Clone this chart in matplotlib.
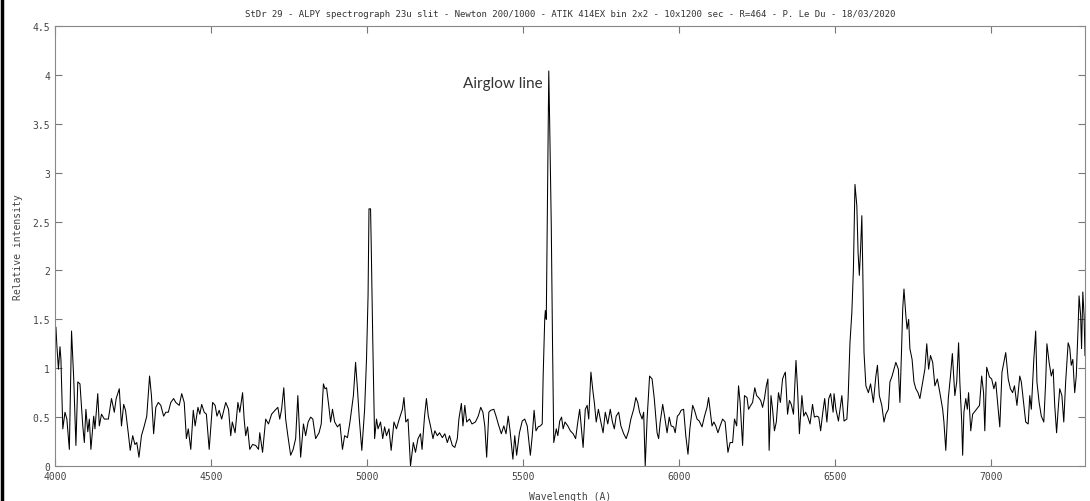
from matplotlib import pyplot as plt
from matplotlib.lines import Line2D
from matplotlib.ticker import FormatStrFormatter

# Spectrum (wavelength in A, relative intensity)
wavelength = [
  4000, 4003, 4006, 4011, 4016, 4019, 4025, 4032, 4038, 4046, 4053, 4060, 4067, 4073, 4080,
  4089, 4094, 4099, 4105, 4110, 4115, 4124, 4128, 4137, 4142, 4149, 4158, 4171, 4181, 4190,
  4196, 4206, 4213, 4220, 4226, 4235, 4241, 4249, 4256, 4262, 4269, 4277, 4286, 4294, 4303,
  4309, 4316, 4323, 4331, 4339, 4348, 4355, 4363, 4371, 4380, 4387, 4398, 4406, 4414, 4421,
  4427, 4435, 4443, 4449, 4458, 4464, 4470, 4478, 4485, 4494, 4505, 4513, 4519, 4526, 4534,
  4547, 4556, 4563, 4568, 4577, 4586, 4592, 4601, 4606, 4611, 4617, 4624, 4633, 4643, 4652,
  4656, 4665, 4675, 4684, 4694, 4705, 4714, 4720, 4726, 4733, 4739, 4746, 4755, 4763, 4771,
  4778, 4787, 4796, 4803, 4811, 4819, 4826, 4835, 4846, 4853, 4860, 4865, 4870, 4877, 4883,
  4889, 4896, 4905, 4913, 4921, 4928, 4937, 4945, 4956, 4963, 4969, 4975, 4983, 4992, 4998,
  5003, 5006, 5011, 5013, 5018, 5024, 5030, 5035, 5043, 5050, 5056, 5062, 5070, 5077, 5086,
  5094, 5103, 5113, 5118, 5124, 5131, 5139, 5148, 5155, 5163, 5171, 5176, 5184, 5190, 5196,
  5203, 5211, 5217, 5225, 5232, 5241, 5249, 5257, 5264, 5273, 5281, 5289, 5294, 5302, 5307,
  5313, 5319, 5328, 5336, 5347, 5356, 5364, 5371, 5377, 5383, 5390, 5396, 5406, 5413, 5422,
  5430, 5438, 5445, 5452, 5458, 5467, 5473, 5479, 5488, 5497, 5505, 5513, 5523, 5529, 5535,
  5541, 5548, 5555, 5561, 5564, 5569, 5571, 5574, 5579, 5582, 5585, 5590, 5594, 5598, 5606,
  5611, 5617, 5623, 5628, 5634, 5643, 5651, 5660, 5668, 5675, 5681, 5692, 5699, 5705, 5710,
  5717, 5724, 5728, 5734, 5741, 5747, 5756, 5763, 5771, 5779, 5786, 5792, 5798, 5806, 5813,
  5822, 5830, 5838, 5845, 5854, 5861, 5867, 5873, 5881, 5886, 5891, 5897, 5905, 5913, 5920,
  5929, 5934, 5939, 5947, 5953, 5961, 5968, 5974, 5982, 5987, 5994, 6000, 6006, 6014, 6021,
  6028, 6034, 6043, 6049, 6057, 6064, 6073, 6081, 6089, 6094, 6099, 6105, 6111, 6117, 6124,
  6131, 6139, 6147, 6156, 6163, 6171, 6177, 6184, 6190, 6195, 6203, 6209, 6217, 6222, 6229,
  6235, 6242, 6248, 6254, 6261, 6267, 6273, 6279, 6284, 6288, 6294, 6299, 6305, 6311, 6318,
  6324, 6331, 6337, 6340, 6347, 6353, 6359, 6366, 6374, 6379, 6385, 6393, 6399, 6405, 6411,
  6419, 6427, 6433, 6440, 6447, 6453, 6460, 6466, 6473, 6479, 6485, 6493, 6496, 6502, 6510,
  6521, 6528, 6537, 6541, 6547, 6553, 6558, 6563, 6569, 6573, 6577, 6581, 6585, 6588, 6592,
  6598, 6606, 6613, 6622, 6630, 6635, 6641, 6649, 6656, 6662, 6670, 6675, 6682, 6688, 6694,
  6702, 6707, 6712, 6716, 6720, 6726, 6730, 6735, 6739, 6746, 6752, 6758, 6765, 6771, 6780,
  6787, 6793, 6799, 6805, 6812, 6819, 6827, 6835, 6844, 6848, 6854, 6862, 6869, 6875, 6883,
  6889, 6895, 6899, 6905, 6908, 6912, 6918, 6923, 6927, 6934, 6940, 6950, 6962, 6969, 6975,
  6979, 6985, 6994, 7001, 7008, 7014, 7022, 7027, 7034, 7040, 7046, 7054, 7061, 7068, 7074,
  7082, 7091, 7096, 7104, 7110, 7118, 7123, 7128, 7136, 7142, 7146, 7153, 7160, 7168, 7174,
  7178, 7185, 7192, 7198, 7203, 7209, 7214, 7219, 7226, 7232, 7238, 7246, 7251, 7256, 7261,
  7267, 7272, 7278, 7281, 7286, 7289, 7293, 7297, 7300,
]
intensity = [
  1.40, 1.42, 1.23, 0.99, 1.22, 1.09, 0.38, 0.55, 0.48, 0.17, 1.38, 0.89, 0.21, 0.86, 0.84,
  0.41, 0.24, 0.58, 0.35, 0.48, 0.17, 0.51, 0.38, 0.74, 0.41, 0.53, 0.48, 0.48, 0.69, 0.55,
  0.69, 0.79, 0.41, 0.63, 0.57, 0.33, 0.16, 0.31, 0.22, 0.24, 0.09, 0.31, 0.41, 0.51, 0.92,
  0.72, 0.33, 0.60, 0.65, 0.62, 0.51, 0.55, 0.55, 0.65, 0.69, 0.65, 0.62, 0.74, 0.65, 0.28,
  0.38, 0.17, 0.57, 0.41, 0.60, 0.53, 0.63, 0.55, 0.53, 0.17, 0.65, 0.62, 0.51, 0.57, 0.48,
  0.65, 0.58, 0.31, 0.45, 0.34, 0.65, 0.55, 0.75, 0.48, 0.31, 0.40, 0.17, 0.22, 0.21, 0.17,
  0.34, 0.14, 0.48, 0.43, 0.53, 0.57, 0.60, 0.48, 0.58, 0.80, 0.48, 0.31, 0.11, 0.17, 0.28,
  0.72, 0.09, 0.43, 0.31, 0.45, 0.50, 0.48, 0.28, 0.34, 0.43, 0.84, 0.79, 0.80, 0.62, 0.45,
  0.58, 0.45, 0.40, 0.43, 0.17, 0.31, 0.29, 0.45, 0.72, 1.06, 0.79, 0.48, 0.16, 0.58, 1.09,
  1.74, 2.63, 2.63, 2.29, 1.30, 0.28, 0.48, 0.38, 0.45, 0.28, 0.40, 0.31, 0.38, 0.16, 0.45,
  0.38, 0.48, 0.58, 0.70, 0.45, 0.48, 0.00, 0.24, 0.14, 0.28, 0.33, 0.17, 0.51, 0.69, 0.51,
  0.41, 0.28, 0.36, 0.31, 0.34, 0.29, 0.33, 0.24, 0.31, 0.21, 0.19, 0.28, 0.48, 0.64, 0.41,
  0.62, 0.45, 0.48, 0.43, 0.45, 0.51, 0.60, 0.55, 0.41, 0.09, 0.55, 0.57, 0.58, 0.51, 0.41,
  0.33, 0.41, 0.33, 0.51, 0.36, 0.07, 0.31, 0.11, 0.34, 0.46, 0.48, 0.41, 0.11, 0.31, 0.57,
  0.36, 0.40, 0.41, 0.43, 0.92, 1.50, 1.59, 1.50, 3.14, 4.04, 3.48, 2.46, 1.26, 0.24, 0.38,
  0.31, 0.46, 0.50, 0.38, 0.45, 0.41, 0.36, 0.33, 0.28, 0.45, 0.58, 0.19, 0.58, 0.62, 0.48,
  0.96, 0.75, 0.65, 0.45, 0.58, 0.48, 0.34, 0.55, 0.43, 0.58, 0.45, 0.38, 0.51, 0.55, 0.41,
  0.33, 0.28, 0.36, 0.48, 0.58, 0.70, 0.65, 0.55, 0.48, 0.55, 0.00, 0.48, 0.92, 0.89, 0.69,
  0.34, 0.28, 0.45, 0.63, 0.51, 0.34, 0.50, 0.41, 0.40, 0.34, 0.51, 0.53, 0.57, 0.58, 0.31,
  0.12, 0.38, 0.62, 0.57, 0.48, 0.46, 0.40, 0.51, 0.60, 0.70, 0.57, 0.41, 0.45, 0.41, 0.34,
  0.41, 0.48, 0.45, 0.14, 0.24, 0.24, 0.48, 0.41, 0.82, 0.65, 0.21, 0.72, 0.70, 0.58, 0.62,
  0.65, 0.80, 0.72, 0.70, 0.67, 0.60, 0.69, 0.82, 0.89, 0.16, 0.72, 0.58, 0.36, 0.45, 0.75,
  0.65, 0.89, 0.94, 0.96, 0.53, 0.67, 0.63, 0.53, 1.08, 0.79, 0.33, 0.72, 0.51, 0.55, 0.51,
  0.43, 0.63, 0.50, 0.51, 0.50, 0.36, 0.55, 0.69, 0.45, 0.69, 0.74, 0.55, 0.74, 0.58, 0.46,
  0.72, 0.46, 0.48, 0.69, 1.26, 1.57, 2.01, 2.88, 2.66, 2.18, 1.95, 2.22, 2.56, 2.01, 1.16,
  0.82, 0.75, 0.84, 0.65, 0.92, 1.03, 0.72, 0.62, 0.45, 0.53, 0.58, 0.86, 0.92, 0.99, 1.06,
  0.99, 0.65, 1.16, 1.61, 1.81, 1.54, 1.40, 1.50, 1.20, 1.09, 0.86, 0.79, 0.75, 0.69, 0.86,
  0.99, 1.25, 0.99, 1.13, 1.06, 0.82, 0.89, 0.75, 0.58, 0.45, 0.16, 0.69, 0.92, 1.15, 0.72,
  0.86, 1.26, 0.86, 0.45, 0.11, 0.55, 0.69, 0.58, 0.75, 0.36, 0.53, 0.57, 0.62, 0.92, 0.75,
  0.36, 1.01, 0.91, 0.89, 0.79, 0.86, 0.58, 0.40, 0.96, 1.06, 1.16, 0.89, 0.79, 0.75, 0.82,
  0.62, 0.92, 0.86, 0.62, 0.45, 0.43, 0.72, 0.58, 1.09, 1.38, 0.86, 0.65, 0.51, 0.45, 0.86,
  1.25, 1.06, 0.92, 0.99, 0.62, 0.34, 0.58, 0.79, 0.72, 0.45, 0.86, 1.26, 1.21, 1.03, 1.09,
  0.75, 0.92, 1.43, 1.74, 1.54, 1.20, 1.78, 1.54, 1.13,
]

x_ticks = [4000, 4500, 5000, 5500, 6000, 6500, 7000]
y_ticks = [0, 0.5, 1, 1.5, 2, 2.5, 3, 3.5, 4, 4.5]

title = ("StDr 29 - ALPY spectrograph 23u slit - Newton 200/1000 - ATIK 414EX bin 2x2"
         " - 10x1200 sec - R=464 - P. Le Du - 18/03/2020")

fig = plt.figure(figsize=(10.9, 5.02), dpi=100)
ax = fig.add_axes([55 / 1090, 1 - 467 / 502, 1030 / 1090, 440 / 502])

ax.plot(wavelength, intensity, color="black", linewidth=0.75)

ax.set_xlim(4000, 7300)
ax.set_ylim(0, 4.5)
ax.set_xticks(x_ticks)
ax.set_yticks(y_ticks)
ax.yaxis.set_major_formatter(FormatStrFormatter("%g"))

mono = "DejaVu Sans Mono"
ax.tick_params(direction="in", length=5, width=0.8, color="#777777",
               top=True, right=True, labelsize=7, labelcolor="#444444")
for lab in ax.get_xticklabels() + ax.get_yticklabels():
  lab.set_family(mono)
for s in ax.spines.values():
  s.set_color("#888888")
  s.set_linewidth(0.8)

ax.set_title(title, fontsize=6.5, family=mono, color="#333333", pad=7)
ax.set_xlabel("Wavelength (A)", fontsize=7, family=mono, color="#444444", labelpad=7)
ax.set_ylabel("Relative intensity", fontsize=7, family=mono, color="#444444", labelpad=7)

ax.text(5563, 3.92, "Airglow line", fontsize=11, family="Lato", color="#333333",
        ha="right", va="center")

# dark frame edge on the left side of the screenshot
fig.add_artist(Line2D([0.002, 0.002], [0, 1], color="black", linewidth=2.5,
                      transform=fig.transFigure))

fig.savefig("out.png", dpi=100)
